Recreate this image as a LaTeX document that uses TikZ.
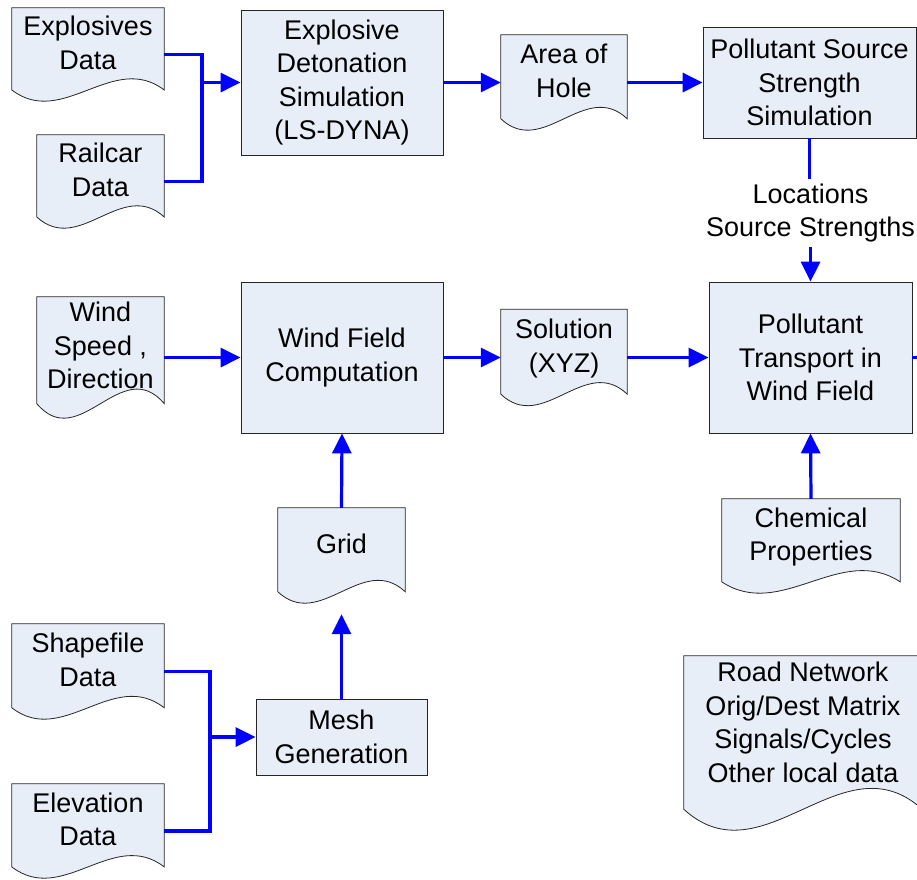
\documentclass[tikz,border=0pt]{standalone}
\usepackage{fontspec}
\setmainfont{Liberation Sans}
\usetikzlibrary{arrows.meta,calc,backgrounds}
\definecolor{BoxFill}{RGB}{232,238,248}
\definecolor{FlowBlue}{RGB}{0,0,255}

\begin{document}
\begin{tikzpicture}[x=1pt, y=-1pt, >={Triangle[length=20pt,width=19pt]},
  every node/.append style={font=\fontsize{27}{33.5}\selectfont},
  procbox/.style={draw=black!85, line width=0.8pt, fill=BoxFill, inner sep=0pt, align=center},
  docbox/.style={inner sep=0pt, align=center, text depth=24pt},
  docline/.style={draw=black!85, line width=0.8pt, fill=BoxFill},
  flow/.style={FlowBlue, line width=3.2pt}]
  \useasboundingbox (0,0) rectangle (917,879);

  \node[docbox, minimum width=152pt, minimum height=93pt] (expl) at (88,54.5) {Explosives\\Data};
  \node[docbox, minimum width=127pt, minimum height=93pt] (rail) at (100.5,181.5) {Railcar\\Data};
  \node[procbox, minimum width=202pt, minimum height=145pt] (det) at (342,82.5) {Explosive\\Detonation\\Simulation\\(LS-DYNA)};
  \node[docbox, minimum width=126pt, minimum height=95pt] (hole) at (564,82.5) {Area of\\Hole};
  \node[procbox, minimum width=213pt, minimum height=111pt] (psrc) at (809.5,82.5) {Pollutant Source\\Strength\\Simulation};
  \node[inner xsep=0pt, inner ysep=4pt, align=center] (loc) at (810.5,213) {Locations\\Source Strengths};

  \node[docbox, minimum width=127pt, minimum height=121pt] (wind) at (100.5,357.5) {Wind\\Speed ,\\Direction};
  \node[procbox, minimum width=202pt, minimum height=151pt] (wfc) at (342,357.5) {Wind Field\\Computation};
  \node[docbox, minimum width=126pt, minimum height=96pt] (sol) at (564,357.5) {Solution\\(XYZ)};
  \node[procbox, minimum width=203pt, minimum height=151pt] (ptr) at (810.5,357.5) {Pollutant\\Transport in\\Wind Field};
  \node[docbox, minimum width=178pt, minimum height=94pt] (chem) at (811,546) {Chemical\\Properties};

  \node[docbox, minimum width=127pt, minimum height=95pt] (grid) at (341.5,555.5) {Grid};
  \node[procbox, minimum width=171pt, minimum height=76pt] (mesh) at (341.5,737) {Mesh\\Generation};
  \node[docbox, minimum width=152pt, minimum height=95pt] (shape) at (88,671.5) {Shapefile\\Data};
  \node[docbox, minimum width=152pt, minimum height=94pt] (elev) at (88,831) {Elevation\\Data};
  \node[docbox, text depth=42pt, minimum width=238pt, minimum height=174pt] (road) at (803,743) {Road Network\\Orig/Dest Matrix\\Signals/Cycles\\Other local data};

  \begin{scope}[on background layer]
    \foreach \d in {expl,rail,hole,wind,sol,grid,chem,shape,elev,road}
      \draw[docline] let \p1=(\d.south west), \p2=(\d.north east),
        \n1={0.12*(\y2-\y1)}, \n2={(\x2-\x1)/3}, \n3={0.415*(\y2-\y1)} in
        (\x1,\y1+\n1) -- (\x1,\y2) -- (\x2,\y2) -- (\x2,\y1+\n1)
        .. controls (\x2-\n2,\y1+\n1+\n3) and (\x1+\n2,\y1+\n1-\n3) .. (\x1,\y1+\n1) -- cycle;
  \end{scope}

  \coordinate (jtop) at (202,82.5);
  \coordinate (jlow) at (210,737);
  \coordinate (out) at (917,357.5);

  \draw[flow] (expl.east) -| (jtop) |- (rail.east);
  \draw[flow,->] (jtop) -- (det.west);
  \draw[flow,->] (det.east) -- (hole.west);
  \draw[flow,->] (hole.east) -- (psrc.west);
  \draw[flow] (psrc.south) -- (psrc.south |- loc.north);
  \draw[flow,->] (loc.south) -- (ptr.north);
  \draw[flow,->] (wind.east) -- (wfc.west);
  \draw[flow,->] (wfc.east) -- (sol.west);
  \draw[flow,->] (sol.east) -- (ptr.west);
  \draw[flow] (ptr.east) -- (out);
  \draw[flow,->] (chem.north) -- (ptr.south);
  \draw[flow,->] (grid.north) -- (wfc.south);
  \draw[flow,->, shorten >=11pt] (mesh.north) -- (grid.south);
  \draw[flow] (shape.east) -| (jlow) |- (elev.east);
  \draw[flow,->] (jlow) -- (mesh.west);
\end{tikzpicture}
\end{document}
